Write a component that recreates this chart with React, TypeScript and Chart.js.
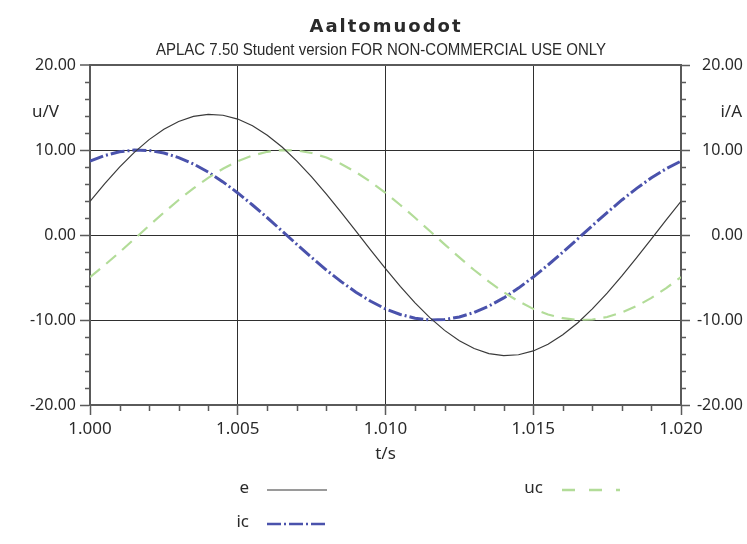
import React, { useEffect, useRef } from "react";
import { Chart, registerables } from "chart.js";

Chart.register(...registerables);

// ---- data ----
const times = [
  1.0, 1.0005, 1.001, 1.0015, 1.002, 1.0025, 1.003, 1.0035, 1.004, 1.0045,
  1.005, 1.0055, 1.006, 1.0065, 1.007, 1.0075, 1.008, 1.0085, 1.009, 1.0095,
  1.01, 1.0105, 1.011, 1.0115, 1.012, 1.0125, 1.013, 1.0135, 1.014, 1.0145,
  1.015, 1.0155, 1.016, 1.0165, 1.017, 1.0175, 1.018, 1.0185, 1.019, 1.0195,
  1.02,
];

const eValues = [
  3.96, 6.05, 7.98, 9.72, 11.22, 12.44, 13.36, 13.95, 14.19, 14.09,
  13.64, 12.85, 11.74, 10.35, 8.7, 6.84, 4.81, 2.66, 0.45, -1.78,
  -3.96, -6.05, -7.98, -9.72, -11.22, -12.44, -13.36, -13.95, -14.19, -14.09,
  -13.64, -12.85, -11.74, -10.35, -8.7, -6.84, -4.81, -2.66, -0.45, 1.78,
  3.96,
];

const icValues = [
  8.69, 9.35, 9.79, 9.99, 9.94, 9.65, 9.11, 8.36, 7.4, 6.25,
  4.95, 3.53, 2.03, 0.47, -1.1, -2.64, -4.12, -5.49, -6.73, -7.8,
  -8.69, -9.35, -9.79, -9.99, -9.94, -9.65, -9.11, -8.36, -7.4, -6.25,
  -4.95, -3.53, -2.03, -0.47, 1.1, 2.64, 4.12, 5.49, 6.73, 7.8,
  8.69,
];

const ucValues = [
  -4.95, -3.53, -2.03, -0.47, 1.1, 2.64, 4.12, 5.49, 6.73, 7.8,
  8.69, 9.35, 9.79, 9.99, 9.94, 9.65, 9.11, 8.36, 7.4, 6.25,
  4.95, 3.53, 2.03, 0.47, -1.1, -2.64, -4.12, -5.49, -6.73, -7.8,
  -8.69, -9.35, -9.79, -9.99, -9.94, -9.65, -9.11, -8.36, -7.4, -6.25,
  -4.95,
];

const xTicks = [1.0, 1.005, 1.01, 1.015, 1.02];
const yTicks = [-20, -10, 0, 10, 20];
const xMinorTicks = [
  1.001, 1.002, 1.003, 1.004, 1.006, 1.007, 1.008, 1.009, 1.011, 1.012, 1.013,
  1.014, 1.016, 1.017, 1.018, 1.019,
];
const yMinorTicks = [-18, -16, -14, -12, -8, -6, -4, -2, 2, 4, 6, 8, 12, 14, 16, 18];

const titleText = "Aaltomuodot";
const subtitleText = "APLAC 7.50 Student version FOR NON-COMMERCIAL USE ONLY";
const yLeftTitle = "u/V";
const yRightTitle = "i/A";
const xTitle = "t/s";

const COLOR_E = "#3a3a3a";
const COLOR_E_LEGEND = "#9a9a9a";
const COLOR_IC = "#4a52ac";
const COLOR_UC = "#b2dc98";
const AXIS = "#5a5a5a";
const GRID = "#2f2f2f";
const TEXT = "#2a2a2a";

const DASH_IC = [14, 3, 2, 3];
const DASH_UC = [13, 8];

const FONT = "'Noto Sans', 'Open Sans', sans-serif";

const overlayPlugin = {
  id: "overlay",
  afterDraw(chart: any) {
    const ctx = chart.ctx as CanvasRenderingContext2D;
    const xs = chart.scales.x;
    const ys = chart.scales.y;
    const area = chart.chartArea;
    ctx.save();

    // minor ticks
    ctx.strokeStyle = AXIS;
    ctx.lineWidth = 1.5;
    ctx.beginPath();
    xMinorTicks.forEach((v) => {
      const px = Math.round(xs.getPixelForValue(v)) + 0.5;
      ctx.moveTo(px, area.bottom);
      ctx.lineTo(px, area.bottom + 6);
    });
    yMinorTicks.forEach((v) => {
      const py = Math.round(ys.getPixelForValue(v)) + 0.5;
      ctx.moveTo(area.left - 5, py);
      ctx.lineTo(area.left, py);
      ctx.moveTo(area.right, py);
      ctx.lineTo(area.right + 5, py);
    });
    ctx.stroke();

    // title
    ctx.fillStyle = TEXT;
    ctx.textAlign = "center";
    ctx.textBaseline = "middle";
    ctx.font = "bold 18px 'DejaVu Sans', sans-serif";
    (ctx as any).letterSpacing = "2px";
    ctx.fillText(titleText, 386, 27);
    (ctx as any).letterSpacing = "0px";

    // subtitle
    ctx.font = "17px 'Liberation Sans Narrow', 'Liberation Sans', sans-serif";
    ctx.fillText(subtitleText, 381, 50, 450);

    // axis titles
    ctx.font = `17px ${FONT}`;
    ctx.textAlign = "left";
    ctx.fillText(yLeftTitle, 32, 112);
    ctx.textAlign = "right";
    ctx.fillText(yRightTitle, 742, 112);
    ctx.textAlign = "center";
    ctx.fillText(xTitle, (area.left + area.right) / 2, 454);

    // legend
    const drawEntry = (
      label: string,
      textRight: number,
      x1: number,
      x2: number,
      y: number,
      color: string,
      width: number,
      dash: number[]
    ) => {
      ctx.fillStyle = TEXT;
      ctx.font = `17px ${FONT}`;
      ctx.textAlign = "right";
      ctx.textBaseline = "middle";
      ctx.fillText(label, textRight, y - 2);
      ctx.strokeStyle = color;
      ctx.lineWidth = width;
      ctx.setLineDash(dash);
      ctx.beginPath();
      ctx.moveTo(x1, y);
      ctx.lineTo(x2, y);
      ctx.stroke();
      ctx.setLineDash([]);
    };
    drawEntry("e", 249, 267, 327, 490, COLOR_E_LEGEND, 2, []);
    drawEntry("ic", 249, 267, 327, 524, COLOR_IC, 2.5, DASH_IC);
    drawEntry("uc", 543, 562, 620, 490, COLOR_UC, 2.5, [13, 14]);

    ctx.restore();
  },
};

export default function App() {
  const canvasRef = useRef<HTMLCanvasElement | null>(null);

  useEffect(() => {
    if (!canvasRef.current) return;
    const toXY = (vals: number[]) => times.map((t, i) => ({ x: t, y: vals[i] }));

    const edgeColor = (v: number, lo: number, hi: number) =>
      v === lo || v === hi ? AXIS : GRID;

    const chart = new Chart(canvasRef.current, {
      type: "line",
      data: {
        datasets: [
          {
            label: "e",
            data: toXY(eValues),
            borderColor: COLOR_E,
            borderWidth: 1.2,
            pointRadius: 0,
            tension: 0,
            yAxisID: "y",
          },
          {
            label: "uc",
            data: toXY(ucValues),
            borderColor: COLOR_UC,
            borderWidth: 2.2,
            borderDash: DASH_UC,
            pointRadius: 0,
            tension: 0,
            yAxisID: "y",
          },
          {
            label: "ic",
            data: toXY(icValues),
            borderColor: COLOR_IC,
            borderWidth: 3,
            borderDash: DASH_IC,
            pointRadius: 0,
            tension: 0,
            yAxisID: "y2",
          },
        ],
      },
      options: {
        animation: false,
        responsive: false,
        devicePixelRatio: 1,
        layout: { padding: { top: 65, left: 0, right: 4, bottom: 0 } },
        plugins: {
          legend: { display: false },
          title: { display: false },
          tooltip: { enabled: false },
        },
        scales: {
          x: {
            type: "linear",
            min: 1.0,
            max: 1.02,
            afterBuildTicks: (s: any) => {
              s.ticks = xTicks.map((v) => ({ value: v }));
            },
            afterFit: (s: any) => {
              s.height = 139;
            },
            ticks: {
              autoSkip: false,
              maxRotation: 0,
              padding: 4,
              color: TEXT,
              font: { family: FONT, size: 17 },
              callback: (v: any) => Number(v).toFixed(3),
            },
            grid: {
              color: (c: any) => edgeColor(c.tick?.value, 1.0, 1.02),
              lineWidth: 1,
              tickLength: 10,
              tickColor: AXIS,
              tickWidth: 1.5,
            },
            border: { color: AXIS, width: 2 },
          },
          y: {
            type: "linear",
            position: "left",
            min: -20,
            max: 20,
            afterBuildTicks: (s: any) => {
              s.ticks = yTicks.map((v) => ({ value: v }));
            },
            afterFit: (s: any) => {
              s.width = 90;
            },
            ticks: {
              padding: 4,
              color: TEXT,
              font: { family: FONT, size: 16 },
              callback: (v: any) => Number(v).toFixed(2),
            },
            grid: {
              color: (c: any) => edgeColor(c.tick?.value, -20, 20),
              lineWidth: (c: any) => (c.tick?.value === 20 ? 2 : 1),
              tickLength: 10,
              tickColor: AXIS,
              tickWidth: 1.5,
            },
            border: { color: AXIS, width: 2 },
          },
          y2: {
            type: "linear",
            position: "right",
            min: -20,
            max: 20,
            afterBuildTicks: (s: any) => {
              s.ticks = yTicks.map((v) => ({ value: v }));
            },
            afterFit: (s: any) => {
              s.width = 62;
            },
            ticks: {
              padding: 9,
              crossAlign: "far",
              color: TEXT,
              font: { family: FONT, size: 16 },
              callback: (v: any) => Number(v).toFixed(2),
            },
            grid: {
              drawOnChartArea: false,
              tickLength: 9,
              tickColor: AXIS,
              tickWidth: 1.5,
            },
            border: { color: AXIS, width: 2 },
          },
        },
      },
      plugins: [overlayPlugin],
    } as any);

    return () => chart.destroy();
  }, []);

  return (
    <div
      style={{
        position: "absolute",
        left: 0,
        top: 0,
        width: 747,
        height: 544,
        background: "#ffffff",
      }}
    >
      <canvas ref={canvasRef} width={747} height={544} />
    </div>
  );
}
